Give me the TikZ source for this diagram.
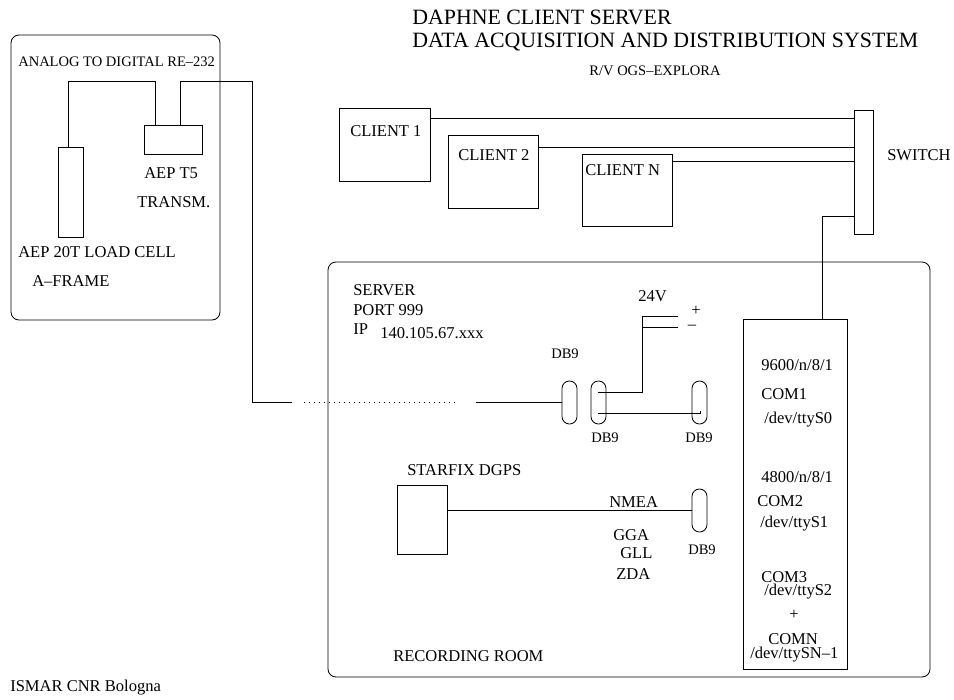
\documentclass[tikz,border=0pt]{standalone}
\usepackage{fontspec}
\setmainfont{Liberation Serif}
\usetikzlibrary{positioning}
\tikzset{
  txt/.style={anchor=west,inner sep=0pt,font=\fontsize{12.4pt}{14pt}\selectfont},
  smalltxt/.style={anchor=west,inner sep=0pt,font=\fontsize{10.9pt}{12pt}\selectfont},
  titletxt/.style={anchor=west,inner sep=0pt,font=\fontsize{16.4pt}{19pt}\selectfont},
  mid/.style={anchor=center},
  box/.style={draw,line width=0.6pt,inner sep=0pt},
  room/.style={box,rounded corners=6pt},
  dbnine/.style={box,minimum width=11.25pt,minimum height=32.25pt,rounded corners=5.6pt},
  wire/.style={line width=0.6pt}
}
\begin{document}
\begin{tikzpicture}[x=0.75pt,y=-0.75pt]
	\useasboundingbox (0,0) rectangle (954,700);

	% title
	\node[titletxt] (titleone) at (412,17) {DAPHNE CLIENT SERVER};
	\node[titletxt] (titletwo) at (412,42) {DATA ACQUISITION AND DISTRIBUTION SYSTEM};
	\node[smalltxt,mid] (ship) at (655,71) {R/V OGS--EXPLORA};

	% a-frame
	\node[room,minimum width=156.75pt,minimum height=213.75pt] (aframe) at (115.5,177.5) {};
	\node[box,minimum width=18.75pt,minimum height=67.5pt] (loadcell) at (70.5,192) {};
	\node[box,minimum width=43.5pt,minimum height=21.75pt] (transm) at (173,139.5) {};
	\node[smalltxt] (adlabel) at (18,62) {ANALOG TO DIGITAL RE--232};
	\node[txt] (aeptf) at (144,173) {AEP T5};
	\node[txt] (translabel) at (137,202) {TRANSM.};
	\node[txt] (celllabel) at (18,252) {AEP 20T LOAD CELL};
	\node[txt] (framelabel) at (32,281) {A--FRAME};

	% clients and switch
	\node[box,minimum width=68.25pt,minimum height=54.75pt] (clientone) at (384.5,144.5) {};
	\node[box,minimum width=67.5pt,minimum height=54.75pt] (clienttwo) at (493,171.5) {};
	\node[box,minimum width=67.5pt,minimum height=54pt] (clientn) at (627,190) {};
	\node[box,minimum width=14.25pt,minimum height=93pt] (switch) at (863.5,172) {};
	\node[txt] (onelabel) at (350,131) {CLIENT 1};
	\node[txt] (twolabel) at (458,155) {CLIENT 2};
	\node[txt] (nlabel) at (585,170) {CLIENT N};
	\node[txt] (switchlabel) at (887,155) {SWITCH};
	\draw[wire] (clientone.east |- 0,118) -- (switch.west |- 0,118);
	\draw[wire] (clienttwo.east |- 0,147) -- (switch.west |- 0,147);
	\draw[wire] (clientn.east |- 0,161) -- (switch.west |- 0,161);

	% server room
	\node[room,minimum width=451.5pt,minimum height=311.25pt] (server) at (629,469.5) {};
	\node[box,minimum width=78pt,minimum height=262.5pt] (combox) at (795,494) {};
	\draw[wire] ([xshift=20.25pt]combox.north) |- (switch.west |- 0,216);
	\node[txt] (serverlabel) at (353,290) {SERVER};
	\node[txt] (portlabel) at (353,310) {PORT 999};
	\node[txt] (iplabel) at (353,329) {IP};
	\node[txt] (ipnum) at (380,333) {140.105.67.xxx};
	\node[txt] (volt) at (638,296) {24V};
	\node[txt,mid] (plussign) at (696,311) {+};
	\node[txt,mid] (minussign) at (692,327) {--};
	\node[txt] (roomlabel) at (393,656) {RECORDING ROOM};

	% com ports
	\node[txt] (baudone) at (761,365) {9600/n/8/1};
	\node[txt] (comone) at (761,394) {COM1};
	\node[txt] (ttyzero) at (764,420) {/dev/ttyS0};
	\node[txt] (baudtwo) at (761,477) {4800/n/8/1};
	\node[txt] (comtwo) at (757,501) {COM2};
	\node[txt] (ttyone) at (760,524) {/dev/ttyS1};
	\node[txt] (comthree) at (761,577) {COM3};
	\node[txt] (ttytwo) at (764,592) {/dev/ttyS2};
	\node[txt,mid] (andsign) at (794,615) {+};
	\node[txt] (comn) at (768,639) {COMN};
	\node[txt] (ttyn) at (750,655) {/dev/ttySN--1};

	% db9 connectors
	\node[dbnine] (dbone) at (569.5,402.5) {};
	\node[dbnine] (dbtwo) at (598.5,402.5) {};
	\node[dbnine] (dbthree) at (699.5,402.5) {};
	\node[dbnine] (dbfour) at (699.5,510.5) {};
	\node[smalltxt,mid] (dbonelabel) at (565,354) {DB9};
	\node[smalltxt,mid] (dbtwolabel) at (605,438) {DB9};
	\node[smalltxt,mid] (dbthreelabel) at (699,438) {DB9};
	\node[smalltxt,mid] (dbfourlabel) at (702,550) {DB9};

	% load cell wiring
	\coordinate (sigbend) at (252,402.5);
	\coordinate (sigleft) at (292,402.5);
	\coordinate (dotleft) at (304,402.5);
	\coordinate (dotright) at (455,402.5);
	\coordinate (sigright) at (476,402.5);
	\draw[wire] ([xshift=-1.5pt]loadcell.north) -- ++(0,-65) -| ([xshift=-13.5pt]transm.north);
	\draw[wire] ([xshift=5.6pt]transm.north) -- ++(0,-43) -| (sigbend) -- (sigleft);
	\draw[wire,line width=0.5pt,dash pattern=on 0.8pt off 2.95pt] (dotleft) -- (dotright);
	\draw[wire] (sigright) -- (dbone.west);

	% 24v and link between connectors
	\coordinate (pinpwr) at (598,392);
	\coordinate (pwrbend) at (642,327);
	\coordinate (pwrplus) at (678,316);
	\coordinate (pwrminus) at (678,327);
	\coordinate (pinsig) at (598,413);
	\coordinate (pinend) at (700,413);
	\coordinate (pinendup) at (700,411);
	\draw[wire] (pinpwr) -| (pwrbend) -- (pwrminus);
	\draw[wire] (pwrbend) |- (pwrplus);
	\draw[wire] (pinsig) -- (pinend) -- (pinendup);

	% starfix
	\node[box,minimum width=37.5pt,minimum height=51.75pt] (starfix) at (422,519.5) {};
	\node[txt] (starfixlabel) at (407,470) {STARFIX DGPS};
	\draw[wire] (starfix.east |- dbfour.west) -- (dbfour.west);
	\node[txt] (nmea) at (609,502) {NMEA};
	\node[txt] (gga) at (613,535) {GGA};
	\node[txt] (gll) at (620,553) {GLL};
	\node[txt] (zda) at (616,574) {ZDA};

	\node[txt] (ismar) at (10,688) {ISMAR CNR Bologna};
\end{tikzpicture}
\end{document}
